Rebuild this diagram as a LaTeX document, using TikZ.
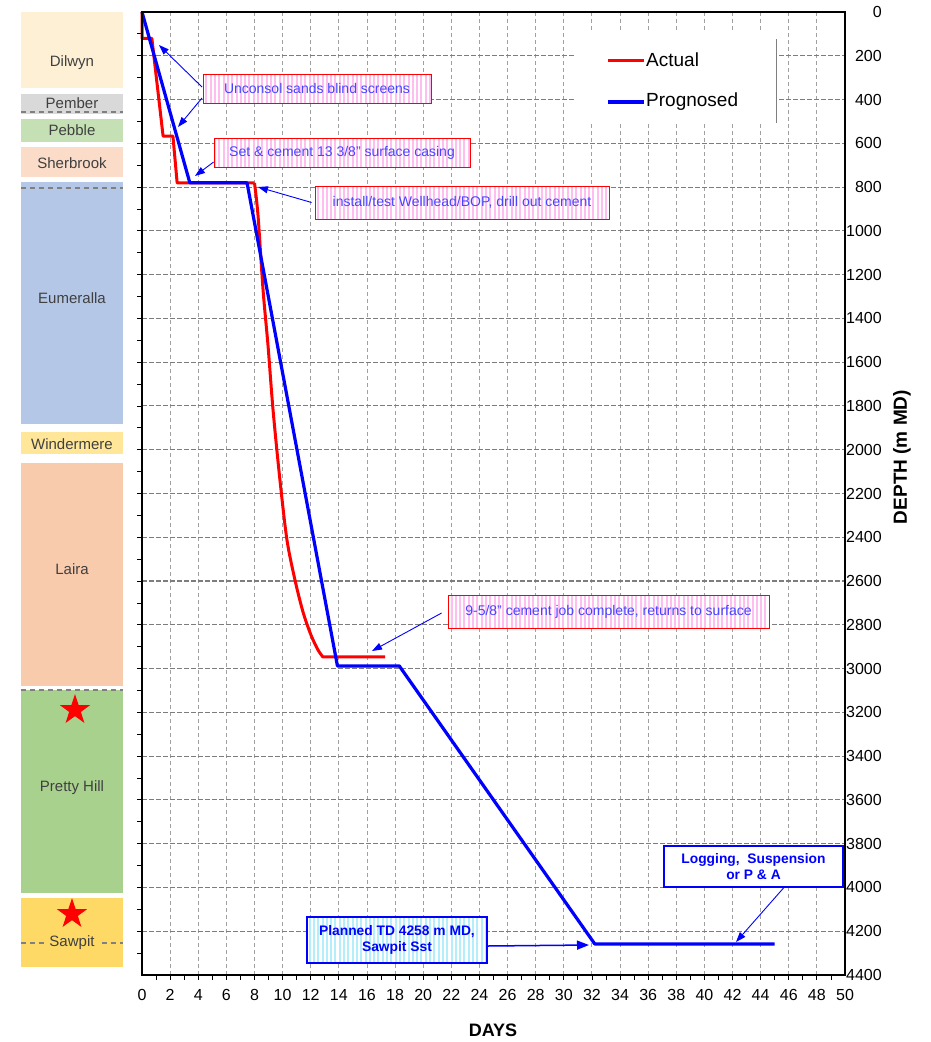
\documentclass[tikz,border=0pt]{standalone}
\usepackage{fontspec}
\setmainfont{Liberation Sans}
\usetikzlibrary{positioning,shapes.geometric,patterns.meta,arrows.meta}

\definecolor{noteblue}{RGB}{70,70,255}
\definecolor{stripepink}{RGB}{255,190,240}
\definecolor{stripecyan}{RGB}{180,238,250}
\definecolor{fmtext}{RGB}{64,64,64}
\definecolor{hgridgray}{RGB}{125,125,125}
\definecolor{vgridgray}{RGB}{160,160,160}
\definecolor{dilwyn}{RGB}{253,240,212}
\definecolor{pember}{RGB}{217,217,217}
\definecolor{pebble}{RGB}{197,224,180}
\definecolor{sherbrook}{RGB}{250,220,200}
\definecolor{eumeralla}{RGB}{180,199,231}
\definecolor{windermere}{RGB}{255,230,153}
\definecolor{laira}{RGB}{248,203,173}
\definecolor{prettyhill}{RGB}{169,209,142}
\definecolor{sawpit}{RGB}{255,217,102}

\begin{document}
\begin{tikzpicture}[x=1pt, y=-1pt, >={Triangle[length=10pt,width=7pt]},
  formation/.style={fill=#1, inner sep=0pt, minimum width=102pt},
  fmname/.style={text=fmtext, inner sep=1pt, font=\fontsize{15}{17}\selectfont},
  fmdash/.style={gray, line width=1.2pt, dash pattern=on 5pt off 4pt},
  hgrid/.style={hgridgray, line width=1.1pt, dash pattern=on 4.5pt off 2.5pt},
  vgrid/.style={vgridgray, line width=0.9pt, dash pattern=on 4pt off 3pt},
  axislbl/.style={font=\fontsize{16}{18}\selectfont, inner sep=1pt},
  actual/.style={red, line width=3pt, line join=round},
  prognosed/.style={blue, line width=3.2pt, line join=round},
  callout/.style={draw=red, line width=0.8pt, preaction={fill=white},
    pattern={Lines[angle=90,distance=4.3pt,line width=2pt]}, pattern color=stripepink,
    text=noteblue, inner sep=0pt, font=\fontsize{14}{16}\selectfont},
  boldnote/.style={draw=blue, text=blue, inner sep=0pt, align=center,
    font=\fontsize{13.8}{15.5}\bfseries\selectfont},
  callarrow/.style={->, blue, line width=0.9pt},
  legtxt/.style={anchor=west, inner sep=0pt, font=\fontsize{19}{21}\selectfont}
]
\useasboundingbox (0,0) rectangle (930,1042);

\foreach \c/\t/\b/\ly/\l [count=\i] in {dilwyn/12/88/63/Dilwyn, pember/94/114/103/Pember,
    pebble/119/142/130/Pebble, sherbrook/147/177/163/Sherbrook,
    eumeralla/182/424/298/Eumeralla, windermere/432/454/444/Windermere,
    laira/463/686/569/Laira, prettyhill/690/893/788/Pretty Hill, sawpit/898/967/943/{}}
{
  \node [formation=\c, minimum height={(\b-\t)*1pt}] (fm-\i) at (72,{(\t+\b)/2}) {};
  \node [fmname] (fmname-\i) at (72,\ly) {\l};
}

\foreach \y in {112,188,690,943}
  \draw [fmdash] (21,\y) -- (123,\y);
\node [fmname, fill=sawpit, inner xsep=3pt] (fmname-sawpit) at (72,943) {Sawpit};

\node [star, star points=5, star point ratio=2.6, fill=red, inner sep=0pt,
  minimum size=32pt] (star-1) at (75,710) {};
\node [star, star points=5, star point ratio=2.6, fill=red, inner sep=0pt,
  minimum size=32pt] (star-2) at (72,914) {};

\begin{scope}[shift={(142,12)}, x=14.06pt, y=-0.21886pt]

\foreach \d in {2,4,...,48}
  \draw [vgrid] (\d,0) -- (\d,4400);
\foreach \m in {200,400,...,4200}
  \draw [hgrid] (0,\m) -- (50,\m);

\foreach \m in {100,200,...,4300}
  \draw [line width=0.8pt] (0,\m) -- ++(-5pt,0);
\foreach \d in {1,...,49}
  \draw [line width=0.8pt] (\d,4400) -- ++(0,-5pt);

\foreach \m in {0,200,...,4400}
  \node [axislbl, anchor=east] (depth-\m) at (52.7,\m) {\m};
\foreach \d in {0,2,...,50}
  \node [axislbl, below=13pt] (day-\d) at (\d,4400) {\d};

\draw [actual] (0,0) -- (0,120) -- (0.7,120) -- (1.5,567) -- (2.2,567) -- (2.5,781)
  -- (8.0,781) plot [smooth, tension=0.5] coordinates {(8.0,781) (8.25,928) (8.61,1270)
  (8.96,1522) (9.32,1818) (9.81,2138) (10.31,2412) (10.88,2595) (11.45,2741)
  (12.02,2847) (12.52,2915) (12.87,2947)} -- (17.3,2947);

\draw [prognosed] (0,0) -- (3.4,780) -- (7.47,780) -- (13.9,2988) -- (18.3,2988)
  -- (32.2,4258) -- (45,4258);

\draw [line width=2pt] (0,0) rectangle (50,4400);
\end{scope}

\fill [white] (575,30) rectangle (776,123);
\draw [gray, line width=1pt] (776,39) -- (776,123);
\node [legtxt] (leg-act) at (646,60) {Actual};
\node [legtxt] (leg-prog) at (646,102) {Prognosed};
\draw [actual] (leg-act.west) ++(-2pt,0) -- ++(-36pt,0);
\draw [prognosed] (leg-prog.west) ++(-2pt,0) -- ++(-36pt,0);

\node [callout, minimum width=228pt, minimum height=29pt] (note-screens) at (317,88.5)
  {Unconsol sands blind screens};
\node [callout, minimum width=256pt, minimum height=29pt] (note-casing) at (342,152.5)
  {Set \& cement 13 3/8" surface casing};
\node [callout, minimum width=294pt, minimum height=33pt] (note-bop) at (462,202.5)
  {install/test Wellhead/BOP, drill out cement};
\node [callout, minimum width=321pt, minimum height=33pt] (note-cement) at (608.5,611.5)
  {9-5/8" cement job complete, returns to surface};
\node [boldnote, line width=1.3pt, minimum width=180pt, minimum height=46pt,
  preaction={fill=white}, pattern={Lines[angle=90,distance=4.3pt,line width=2pt]},
  pattern color=stripecyan] (note-td) at (397,940) {Planned TD 4258 m MD,\\Sawpit Sst};
\node [boldnote, fill=white, line width=2pt, minimum width=179pt, minimum height=41pt]
  (note-log) at (753.5,866.5) {Logging, \ Suspension\\or P \& A};

\coordinate (tip-a) at (159,45);
\coordinate (tip-b) at (178,127);
\coordinate (tip-c) at (195,176);
\coordinate (tip-d) at (258,187);
\coordinate (tip-e) at (372,651);
\coordinate (tip-f) at (589,945);
\coordinate (tip-g) at (736,942);

\draw [callarrow] ([yshift=1.5pt]note-screens.west) -- (tip-a);
\draw [callarrow] ([yshift=-9.5pt]note-screens.west) -- (tip-b);
\draw [callarrow] ([yshift=-9.5pt]note-casing.west) -- (tip-c);
\draw [callarrow] ([xshift=-3pt]note-bop.west) -- (tip-d);
\draw [callarrow] ([xshift=-6pt, yshift=-1.5pt]note-cement.west) -- (tip-e);
\draw [callarrow, line width=1.5pt, >={Triangle[length=12pt,width=9pt]}]
  ([yshift=-6pt]note-td.east) -- (tip-f);
\draw [callarrow] ([xshift=30pt]note-log.south) -- (tip-g);

\node [font=\fontsize{18}{20}\bfseries\selectfont] (days-lbl) at (493,1030) {DAYS};
\node [rotate=90, font=\fontsize{19}{21}\bfseries\selectfont] (depth-lbl) at (902,457)
  {DEPTH (m MD)};

\end{tikzpicture}
\end{document}
